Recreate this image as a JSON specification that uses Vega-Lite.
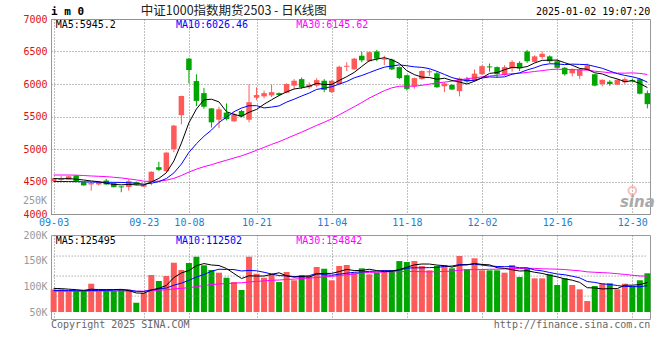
{
"$schema": "https://vega.github.io/schema/vega-lite/v6.json",
"background": "#ffffff",
"padding": {"left": 22, "top": 4, "right": 11, "bottom": 10},
"bounds": "flush",
"spacing": 21,
"config": {
  "view": {"stroke": "#999999", "strokeWidth": 1},
  "axis": {"labelFont": "DejaVu Sans Mono", "labelFontSize": 10, "ticks": false, "domain": false, "gridColor": "#808080", "gridDash": [1, 2], "gridWidth": 1, "gridOpacity": 1, "labelOverlap": false, "title": null},
  "text": {"font": "DejaVu Sans Mono", "fontSize": 10}
},
"data": {"values": [
{"d":"09-03","o":4505,"h":4555,"l":4495,"c":4550,"m5":4545,"m10":4500,"m30":4600,"v":94200,"vm5":96000,"vm10":92000,"vm30":90500},
{"d":"09-04","o":4525,"h":4590,"l":4490,"c":4540,"m5":4542,"m10":4500,"m30":4600,"v":94200,"vm5":95500,"vm10":92000,"vm30":90500},
{"d":"09-05","o":4530,"h":4590,"l":4525,"c":4580,"m5":4545,"m10":4500,"m30":4600,"v":90900,"vm5":94500,"vm10":92000,"vm30":90500},
{"d":"09-06","o":4592,"h":4595,"l":4500,"c":4505,"m5":4535,"m10":4498,"m30":4598,"v":90900,"vm5":93500,"vm10":91500,"vm30":90500},
{"d":"09-09","o":4490,"h":4495,"l":4435,"c":4440,"m5":4523,"m10":4495,"m30":4592,"v":90900,"vm5":92200,"vm10":91500,"vm30":90500},
{"d":"09-10","o":4455,"h":4490,"l":4360,"c":4475,"m5":4508,"m10":4492,"m30":4585,"v":105100,"vm5":94400,"vm10":92000,"vm30":90800},
{"d":"09-11","o":4455,"h":4500,"l":4440,"c":4490,"m5":4498,"m10":4490,"m30":4580,"v":90900,"vm5":93700,"vm10":92000,"vm30":90800},
{"d":"09-12","o":4515,"h":4540,"l":4450,"c":4455,"m5":4473,"m10":4488,"m30":4575,"v":90900,"vm5":93700,"vm10":92000,"vm30":90800},
{"d":"09-13","o":4475,"h":4480,"l":4410,"c":4413,"m5":4455,"m10":4487,"m30":4565,"v":90900,"vm5":93700,"vm10":92500,"vm30":90800},
{"d":"09-18","o":4425,"h":4430,"l":4335,"c":4410,"m5":4449,"m10":4486,"m30":4555,"v":92900,"vm5":94100,"vm10":93200,"vm30":90800},
{"d":"09-19","o":4415,"h":4540,"l":4360,"c":4505,"m5":4455,"m10":4481,"m30":4540,"v":92900,"vm5":91700,"vm10":93100,"vm30":90800},
{"d":"09-20","o":4490,"h":4500,"l":4440,"c":4455,"m5":4448,"m10":4473,"m30":4525,"v":68100,"vm5":87100,"vm10":90400,"vm30":90500},
{"d":"09-23","o":4420,"h":4450,"l":4415,"c":4445,"m5":4446,"m10":4459,"m30":4505,"v":87600,"vm5":86500,"vm10":90100,"vm30":90500},
{"d":"09-24","o":4505,"h":4655,"l":4440,"c":4650,"m5":4493,"m10":4474,"m30":4500,"v":122100,"vm5":92700,"vm10":93200,"vm30":91500},
{"d":"09-25","o":4720,"h":4805,"l":4660,"c":4680,"m5":4547,"m10":4498,"m30":4506,"v":110400,"vm5":96200,"vm10":95200,"vm30":92500},
{"d":"09-26","o":4660,"h":4950,"l":4640,"c":4945,"m5":4635,"m10":4545,"m30":4520,"v":120100,"vm5":101700,"vm10":96700,"vm30":93500},
{"d":"09-27","o":5000,"h":5370,"l":4950,"c":5360,"m5":4816,"m10":4632,"m30":4548,"v":146000,"vm5":117200,"vm10":102200,"vm30":95000},
{"d":"09-30","o":5520,"h":5820,"l":5380,"c":5815,"m5":5090,"m10":4768,"m30":4592,"v":131800,"vm5":126100,"vm10":106300,"vm30":96000},
{"d":"10-08","o":6390,"h":6400,"l":6010,"c":6215,"m5":5403,"m10":4948,"m30":4645,"v":145500,"vm5":130800,"vm10":111700,"vm30":97500},
{"d":"10-09","o":6045,"h":6150,"l":5660,"c":5740,"m5":5615,"m10":5081,"m30":4690,"v":157700,"vm5":140200,"vm10":118200,"vm30":99500},
{"d":"10-10","o":5860,"h":5940,"l":5620,"c":5650,"m5":5756,"m10":5196,"m30":4728,"v":141000,"vm5":144400,"vm10":123000,"vm30":101500},
{"d":"10-11","o":5625,"h":5630,"l":5330,"c":5410,"m5":5766,"m10":5291,"m30":4758,"v":131800,"vm5":141600,"vm10":129400,"vm30":103500},
{"d":"10-14","o":5450,"h":5650,"l":5320,"c":5610,"m5":5725,"m10":5408,"m30":4795,"v":126600,"vm5":140500,"vm10":133300,"vm30":104500},
{"d":"10-15","o":5560,"h":5700,"l":5440,"c":5460,"m5":5574,"m10":5489,"m30":4827,"v":116800,"vm5":134800,"vm10":132800,"vm30":105500},
{"d":"10-16","o":5425,"h":5560,"l":5420,"c":5535,"m5":5533,"m10":5574,"m30":4862,"v":108400,"vm5":124900,"vm10":132600,"vm30":106300},
{"d":"10-17","o":5585,"h":5600,"l":5490,"c":5500,"m5":5503,"m10":5630,"m30":4895,"v":92900,"vm5":115300,"vm10":129900,"vm30":107000},
{"d":"10-18","o":5450,"h":5995,"l":5410,"c":5720,"m5":5565,"m10":5666,"m30":4936,"v":157700,"vm5":120500,"vm10":131000,"vm30":108500},
{"d":"10-21","o":5790,"h":5950,"l":5750,"c":5830,"m5":5609,"m10":5667,"m30":4980,"v":124600,"vm5":120100,"vm10":130300,"vm30":109500},
{"d":"10-22","o":5810,"h":5900,"l":5780,"c":5860,"m5":5689,"m10":5632,"m30":5025,"v":116800,"vm5":120100,"vm10":127400,"vm30":110600},
{"d":"10-23","o":5825,"h":5990,"l":5800,"c":5875,"m5":5757,"m10":5645,"m30":5071,"v":124600,"vm5":123300,"vm10":124100,"vm30":111800},
{"d":"10-24","o":5860,"h":5870,"l":5815,"c":5830,"m5":5823,"m10":5663,"m30":5113,"v":108400,"vm5":126400,"vm10":120900,"vm30":112300},
{"d":"10-25","o":5865,"h":6010,"l":5855,"c":6000,"m5":5879,"m10":5722,"m30":5162,"v":127900,"vm5":120500,"vm10":120500,"vm30":113400},
{"d":"10-28","o":5975,"h":6075,"l":5925,"c":6050,"m5":5923,"m10":5766,"m30":5211,"v":111800,"vm5":117900,"vm10":119000,"vm30":114100},
{"d":"10-29","o":6075,"h":6100,"l":5925,"c":5950,"m5":5941,"m10":5815,"m30":5259,"v":122100,"vm5":119000,"vm10":119500,"vm30":115200},
{"d":"10-30","o":5950,"h":6025,"l":5925,"c":5990,"m5":5964,"m10":5861,"m30":5311,"v":120100,"vm5":118100,"vm10":120700,"vm30":116100},
{"d":"10-31","o":5975,"h":6090,"l":5950,"c":6060,"m5":6010,"m10":5917,"m30":5364,"v":137700,"vm5":123900,"vm10":125200,"vm30":117200},
{"d":"11-01","o":6050,"h":6075,"l":5875,"c":5910,"m5":5992,"m10":5936,"m30":5411,"v":134300,"vm5":125200,"vm10":122800,"vm30":118700},
{"d":"11-04","o":5875,"h":6060,"l":5860,"c":6050,"m5":5992,"m10":5958,"m30":5464,"v":111800,"vm5":125200,"vm10":121600,"vm30":119400},
{"d":"11-05","o":6000,"h":6280,"l":5990,"c":6265,"m5":6055,"m10":5998,"m30":5526,"v":139600,"vm5":128700,"vm10":123800,"vm30":121000},
{"d":"11-06","o":6265,"h":6335,"l":6200,"c":6280,"m5":6113,"m10":6039,"m30":5588,"v":141600,"vm5":133000,"vm10":125500,"vm30":122600},
{"d":"11-07","o":6225,"h":6400,"l":6220,"c":6390,"m5":6179,"m10":6095,"m30":5651,"v":126600,"vm5":130800,"vm10":127400,"vm30":123700},
{"d":"11-08","o":6435,"h":6500,"l":6335,"c":6365,"m5":6270,"m10":6131,"m30":5715,"v":135100,"vm5":130900,"vm10":128100,"vm30":126000},
{"d":"11-11","o":6350,"h":6500,"l":6340,"c":6490,"m5":6358,"m10":6175,"m30":5783,"v":123400,"vm5":133300,"vm10":129200,"vm30":127200},
{"d":"11-12","o":6500,"h":6525,"l":6350,"c":6390,"m5":6383,"m10":6219,"m30":5841,"v":126600,"vm5":130700,"vm10":129700,"vm30":127300},
{"d":"11-13","o":6375,"h":6435,"l":6290,"c":6390,"m5":6405,"m10":6259,"m30":5898,"v":131200,"vm5":128600,"vm10":130800,"vm30":128000},
{"d":"11-14","o":6375,"h":6390,"l":6215,"c":6225,"m5":6372,"m10":6276,"m30":5941,"v":131800,"vm5":129600,"vm10":130200,"vm30":128400},
{"d":"11-15","o":6260,"h":6270,"l":6075,"c":6090,"m5":6317,"m10":6294,"m30":5965,"v":149300,"vm5":132500,"vm10":131700,"vm30":128500},
{"d":"11-18","o":6135,"h":6140,"l":5900,"c":5925,"m5":6204,"m10":6281,"m30":5969,"v":147400,"vm5":137300,"vm10":135300,"vm30":129000},
{"d":"11-19","o":5965,"h":6100,"l":5930,"c":6090,"m5":6144,"m10":6264,"m30":5965,"v":149300,"vm5":141800,"vm10":136200,"vm30":129100},
{"d":"11-20","o":6075,"h":6210,"l":6065,"c":6200,"m5":6106,"m10":6256,"m30":5980,"v":139600,"vm5":143500,"vm10":136000,"vm30":128500},
{"d":"11-21","o":6180,"h":6225,"l":6125,"c":6195,"m5":6100,"m10":6236,"m30":5998,"v":131200,"vm5":143400,"vm10":136500,"vm30":128200},
{"d":"11-22","o":6165,"h":6190,"l":5940,"c":5950,"m5":6072,"m10":6195,"m30":6016,"v":139600,"vm5":141400,"vm10":136900,"vm30":128500},
{"d":"11-25","o":5965,"h":6025,"l":5875,"c":6010,"m5":6089,"m10":6147,"m30":6029,"v":141600,"vm5":140300,"vm10":138800,"vm30":129000},
{"d":"11-26","o":5985,"h":6000,"l":5910,"c":5915,"m5":6054,"m10":6099,"m30":6044,"v":135100,"vm5":137400,"vm10":139600,"vm30":129600},
{"d":"11-27","o":5890,"h":6100,"l":5810,"c":6085,"m5":6031,"m10":6069,"m30":6063,"v":159100,"vm5":141300,"vm10":142400,"vm30":131300},
{"d":"11-28","o":6075,"h":6110,"l":6020,"c":6040,"m5":6000,"m10":6050,"m30":6081,"v":133200,"vm5":141700,"vm10":142500,"vm30":132600},
{"d":"11-29","o":6050,"h":6225,"l":6040,"c":6160,"m5":6042,"m10":6057,"m30":6095,"v":154600,"vm5":144700,"vm10":143100,"vm30":132500},
{"d":"12-02","o":6150,"h":6290,"l":6140,"c":6275,"m5":6095,"m10":6092,"m30":6110,"v":131200,"vm5":142600,"vm10":141500,"vm30":132700},
{"d":"12-03","o":6270,"h":6315,"l":6190,"c":6255,"m5":6163,"m10":6109,"m30":6123,"v":131200,"vm5":141900,"vm10":139600,"vm30":133200},
{"d":"12-04","o":6260,"h":6270,"l":6100,"c":6150,"m5":6176,"m10":6104,"m30":6133,"v":131200,"vm5":136300,"vm10":138800,"vm30":133400},
{"d":"12-05","o":6140,"h":6290,"l":6125,"c":6260,"m5":6220,"m10":6110,"m30":6147,"v":126600,"vm5":135000,"vm10":138300,"vm30":134000},
{"d":"12-06","o":6240,"h":6365,"l":6190,"c":6340,"m5":6256,"m10":6149,"m30":6159,"v":141600,"vm5":132400,"vm10":138500,"vm30":134500},
{"d":"12-09","o":6325,"h":6350,"l":6200,"c":6240,"m5":6249,"m10":6172,"m30":6165,"v":118200,"vm5":129800,"vm10":136200,"vm30":134700},
{"d":"12-10","o":6500,"h":6525,"l":6325,"c":6350,"m5":6268,"m10":6216,"m30":6178,"v":135100,"vm5":130500,"vm10":136200,"vm30":135100},
{"d":"12-11","o":6340,"h":6440,"l":6330,"c":6425,"m5":6323,"m10":6250,"m30":6193,"v":115600,"vm5":127400,"vm10":131900,"vm30":135000},
{"d":"12-12","o":6415,"h":6500,"l":6385,"c":6465,"m5":6364,"m10":6292,"m30":6206,"v":115600,"vm5":125200,"vm10":130100,"vm30":134200},
{"d":"12-13","o":6425,"h":6440,"l":6320,"c":6350,"m5":6366,"m10":6311,"m30":6221,"v":123400,"vm5":121600,"vm10":127000,"vm30":133800},
{"d":"12-16","o":6350,"h":6375,"l":6235,"c":6250,"m5":6368,"m10":6309,"m30":6228,"v":102600,"vm5":118500,"vm10":124100,"vm30":133500},
{"d":"12-17","o":6250,"h":6260,"l":6130,"c":6150,"m5":6328,"m10":6298,"m30":6224,"v":115600,"vm5":114600,"vm10":122600,"vm30":132700},
{"d":"12-18","o":6165,"h":6240,"l":6115,"c":6225,"m5":6288,"m10":6306,"m30":6222,"v":102600,"vm5":112000,"vm10":119700,"vm30":131400},
{"d":"12-19","o":6125,"h":6240,"l":6075,"c":6225,"m5":6240,"m10":6302,"m30":6216,"v":94200,"vm5":107700,"vm10":116500,"vm30":130300},
{"d":"12-20","o":6215,"h":6315,"l":6205,"c":6285,"m5":6227,"m10":6297,"m30":6214,"v":71400,"vm5":97300,"vm10":109400,"vm30":128200},
{"d":"12-23","o":6150,"h":6155,"l":5965,"c":5975,"m5":6172,"m10":6270,"m30":6197,"v":100600,"vm5":96900,"vm10":107700,"vm30":127400},
{"d":"12-24","o":6000,"h":6070,"l":5965,"c":6065,"m5":6155,"m10":6242,"m30":6186,"v":105900,"vm5":94900,"vm10":104800,"vm30":126700},
{"d":"12-25","o":6035,"h":6060,"l":5970,"c":6000,"m5":6110,"m10":6199,"m30":6173,"v":105900,"vm5":95600,"vm10":103800,"vm30":125900},
{"d":"12-26","o":5990,"h":6075,"l":5985,"c":6065,"m5":6078,"m10":6159,"m30":6168,"v":94200,"vm5":95600,"vm10":101600,"vm30":124600},
{"d":"12-27","o":6025,"h":6100,"l":6000,"c":6075,"m5":6036,"m10":6132,"m30":6167,"v":105100,"vm5":102300,"vm10":99800,"vm30":123200},
{"d":"12-30","o":6060,"h":6085,"l":6025,"c":6045,"m5":6050,"m10":6111,"m30":6171,"v":100100,"vm5":102200,"vm10":99600,"vm30":121600},
{"d":"12-31","o":6075,"h":6090,"l":5840,"c":5850,"m5":6007,"m10":6081,"m30":6163,"v":111800,"vm5":103400,"vm10":99200,"vm30":120300},
{"d":"01-02","o":5860,"h":5900,"l":5625,"c":5690,"m5":5945,"m10":6028,"m30":6146,"v":125400,"vm5":107300,"vm10":101500,"vm30":119900}
]},
"vconcat": [
{
  "width": 599, "height": 195,
  "encoding": {
    "x": {"field": "d", "type": "ordinal", "sort": null, "scale": {"type": "point", "padding": 0.35},
          "axis": {"values": ["09-03","09-23","10-08","10-21","11-04","11-18","12-02","12-16","12-30"], "labelAngle": 0, "labelColor": "#1a80d0", "grid": true, "labelPadding": 3, "labelOverlap": false}}
  },
  "layer": [
    {"mark": {"type": "rule", "strokeWidth": 1},
     "encoding": {
       "y": {"field": "l", "type": "quantitative", "scale": {"domain": [4000, 7000], "nice": false, "zero": false},
             "axis": {"values": [4000,4500,5000,5500,6000,6500,7000], "format": "d", "labelColor": "#e01010", "grid": true, "labelPadding": 4, "labelOverlap": false}},
       "y2": {"field": "h"},
       "color": {"condition": {"test": "datum.c >= datum.o", "value": "#ff5a5a"}, "value": "#00a600"}
     }},
    {"mark": {"type": "bar", "size": 5.5},
     "encoding": {
       "y": {"field": "o", "type": "quantitative", "scale": {"domain": [4000, 7000], "nice": false, "zero": false},
             "axis": {"values": [4000,4500,5000,5500,6000,6500,7000], "format": "d", "labelColor": "#e01010", "grid": true, "labelPadding": 4, "labelOverlap": false}},
       "y2": {"field": "c"},
       "color": {"condition": {"test": "datum.c >= datum.o", "value": "#ff5a5a"}, "value": "#00a600"}
     }},
    {"mark": {"type": "line", "color": "#ff00ff", "strokeWidth": 1}, "encoding": {"y": {"field": "m30", "type": "quantitative", "scale": {"domain": [4000, 7000], "nice": false, "zero": false},
             "axis": {"values": [4000,4500,5000,5500,6000,6500,7000], "format": "d", "labelColor": "#e01010", "grid": true, "labelPadding": 4, "labelOverlap": false}}}},
    {"mark": {"type": "line", "color": "#0000ff", "strokeWidth": 1}, "encoding": {"y": {"field": "m10", "type": "quantitative", "scale": {"domain": [4000, 7000], "nice": false, "zero": false},
             "axis": {"values": [4000,4500,5000,5500,6000,6500,7000], "format": "d", "labelColor": "#e01010", "grid": true, "labelPadding": 4, "labelOverlap": false}}}},
    {"mark": {"type": "line", "color": "#000000", "strokeWidth": 1}, "encoding": {"y": {"field": "m5", "type": "quantitative", "scale": {"domain": [4000, 7000], "nice": false, "zero": false},
             "axis": {"values": [4000,4500,5000,5500,6000,6500,7000], "format": "d", "labelColor": "#e01010", "grid": true, "labelPadding": 4, "labelOverlap": false}}}},
    {"data": {"values": [{}]}, "mark": {"type": "text", "text": "MA5:5945.2", "align": "left", "baseline": "middle", "dx": 2, "dy": 6, "color": "#000000"},
     "encoding": {"x": {"datum": "09-03", "type": "ordinal"}, "y": {"datum": 7000, "type": "quantitative", "scale": {"domain": [4000, 7000], "nice": false, "zero": false},
             "axis": {"values": [4000,4500,5000,5500,6000,6500,7000], "format": "d", "labelColor": "#e01010", "grid": true, "labelPadding": 4, "labelOverlap": false}}}},
    {"data": {"values": [{}]}, "mark": {"type": "text", "text": "MA10:6026.46", "align": "left", "baseline": "middle", "dx": 2, "dy": 6, "color": "#0000ff"},
     "encoding": {"x": {"datum": "09-27", "type": "ordinal"}, "y": {"datum": 7000, "type": "quantitative", "scale": {"domain": [4000, 7000], "nice": false, "zero": false},
             "axis": {"values": [4000,4500,5000,5500,6000,6500,7000], "format": "d", "labelColor": "#e01010", "grid": true, "labelPadding": 4, "labelOverlap": false}}}},
    {"data": {"values": [{}]}, "mark": {"type": "text", "text": "MA30:6145.62", "align": "left", "baseline": "middle", "dx": 2, "dy": 6, "color": "#ff00ff"},
     "encoding": {"x": {"datum": "10-28", "type": "ordinal"}, "y": {"datum": 7000, "type": "quantitative", "scale": {"domain": [4000, 7000], "nice": false, "zero": false},
             "axis": {"values": [4000,4500,5000,5500,6000,6500,7000], "format": "d", "labelColor": "#e01010", "grid": true, "labelPadding": 4, "labelOverlap": false}}}},
    {"data": {"values": [{}]}, "mark": {"type": "text", "text": "i m 0", "align": "left", "baseline": "middle", "dx": -2.6, "dy": -7, "fontSize": 11, "fontWeight": "bold", "color": "#000000"},
     "encoding": {"x": {"datum": "09-03", "type": "ordinal"}, "y": {"datum": 7000, "type": "quantitative", "scale": {"domain": [4000, 7000], "nice": false, "zero": false},
             "axis": {"values": [4000,4500,5000,5500,6000,6500,7000], "format": "d", "labelColor": "#e01010", "grid": true, "labelPadding": 4, "labelOverlap": false}}}},
    {"data": {"values": [{}]}, "mark": {"type": "text", "text": "中证1000指数期货2503 - 日K线图", "font": "Noto Sans CJK SC", "fontSize": 12.5, "align": "left", "baseline": "middle", "dx": -3, "dy": -8, "color": "#222222"},
     "encoding": {"x": {"datum": "09-23", "type": "ordinal"}, "y": {"datum": 7000, "type": "quantitative", "scale": {"domain": [4000, 7000], "nice": false, "zero": false},
             "axis": {"values": [4000,4500,5000,5500,6000,6500,7000], "format": "d", "labelColor": "#e01010", "grid": true, "labelPadding": 4, "labelOverlap": false}}}},
    {"data": {"values": [{}]}, "mark": {"type": "text", "text": "2025-01-02 19:07:20", "align": "right", "baseline": "middle", "dx": 3, "dy": -7, "color": "#000000"},
     "encoding": {"x": {"datum": "01-02", "type": "ordinal"}, "y": {"datum": 7000, "type": "quantitative", "scale": {"domain": [4000, 7000], "nice": false, "zero": false},
             "axis": {"values": [4000,4500,5000,5500,6000,6500,7000], "format": "d", "labelColor": "#e01010", "grid": true, "labelPadding": 4, "labelOverlap": false}}}},
    {"data": {"values": [{}]}, "mark": {"type": "text", "text": "250K", "align": "right", "baseline": "middle", "dx": -6.6, "color": "#999999"},
     "encoding": {"x": {"datum": "09-03", "type": "ordinal"}, "y": {"datum": 4205, "type": "quantitative", "scale": {"domain": [4000, 7000], "nice": false, "zero": false},
             "axis": {"values": [4000,4500,5000,5500,6000,6500,7000], "format": "d", "labelColor": "#e01010", "grid": true, "labelPadding": 4, "labelOverlap": false}}}},
    {"data": {"values": [{}]}, "mark": {"type": "point", "shape": "circle", "size": 60, "filled": false, "stroke": "#ff9090", "strokeWidth": 2, "opacity": 0.6},
     "encoding": {"x": {"datum": "12-30", "type": "ordinal"}, "y": {"datum": 4360, "type": "quantitative", "scale": {"domain": [4000, 7000], "nice": false, "zero": false},
             "axis": {"values": [4000,4500,5000,5500,6000,6500,7000], "format": "d", "labelColor": "#e01010", "grid": true, "labelPadding": 4, "labelOverlap": false}}}},
    {"data": {"values": [{}]}, "mark": {"type": "text", "text": "sina", "font": "DejaVu Sans", "fontSize": 15, "fontWeight": "bold", "fontStyle": "italic", "align": "center", "baseline": "middle", "dx": 5, "color": "#aaaaaa"},
     "encoding": {"x": {"datum": "12-30", "type": "ordinal"}, "y": {"datum": 4190, "type": "quantitative", "scale": {"domain": [4000, 7000], "nice": false, "zero": false},
             "axis": {"values": [4000,4500,5000,5500,6000,6500,7000], "format": "d", "labelColor": "#e01010", "grid": true, "labelPadding": 4, "labelOverlap": false}}}}
  ]
},
{
  "width": 599, "height": 84,
  "encoding": {
    "x": {"field": "d", "type": "ordinal", "sort": null, "scale": {"type": "point", "padding": 0.35},
          "axis": {"values": ["09-03","09-23","10-08","10-21","11-04","11-18","12-02","12-16","12-30"], "labels": false, "grid": true}}
  },
  "layer": [
    {"mark": {"type": "bar", "size": 6},
     "encoding": {
       "y": {"field": "v", "type": "quantitative", "scale": {"domain": [36400, 200000], "nice": false, "zero": false},
             "axis": {"values": [50000, 100000, 150000, 200000], "labelExpr": "(datum.value/1000) + 'K'", "labelColor": "#999999", "grid": false, "labelPadding": 4, "labelOverlap": false}},
       "y2": {"datum": 50000},
       "color": {"condition": {"test": "datum.c >= datum.o", "value": "#ff5a5a"}, "value": "#00a600"}
     }},
    {"data": {"values": [{"g": 81000}, {"g": 120000}, {"g": 159000}]},
     "mark": {"type": "rule", "color": "#808080", "strokeDash": [1, 2], "strokeWidth": 1},
     "encoding": {"x": {"datum": "09-03", "type": "ordinal"}, "x2": {"datum": "01-02"}, "y": {"field": "g", "type": "quantitative", "scale": {"domain": [36400, 200000], "nice": false, "zero": false},
             "axis": {"values": [50000, 100000, 150000, 200000], "labelExpr": "(datum.value/1000) + 'K'", "labelColor": "#999999", "grid": false, "labelPadding": 4, "labelOverlap": false}}}},
    {"mark": {"type": "line", "color": "#ff00ff", "strokeWidth": 1},
     "encoding": {"y": {"field": "vm30", "type": "quantitative", "scale": {"domain": [36400, 200000], "nice": false, "zero": false},
             "axis": {"values": [50000, 100000, 150000, 200000], "labelExpr": "(datum.value/1000) + 'K'", "labelColor": "#999999", "grid": false, "labelPadding": 4, "labelOverlap": false}}}},
    {"mark": {"type": "line", "color": "#0000ff", "strokeWidth": 1},
     "encoding": {"y": {"field": "vm10", "type": "quantitative", "scale": {"domain": [36400, 200000], "nice": false, "zero": false},
             "axis": {"values": [50000, 100000, 150000, 200000], "labelExpr": "(datum.value/1000) + 'K'", "labelColor": "#999999", "grid": false, "labelPadding": 4, "labelOverlap": false}}}},
    {"mark": {"type": "line", "color": "#000000", "strokeWidth": 1},
     "encoding": {"y": {"field": "vm5", "type": "quantitative", "scale": {"domain": [36400, 200000], "nice": false, "zero": false},
             "axis": {"values": [50000, 100000, 150000, 200000], "labelExpr": "(datum.value/1000) + 'K'", "labelColor": "#999999", "grid": false, "labelPadding": 4, "labelOverlap": false}}}},
    {"data": {"values": [{}]}, "mark": {"type": "text", "text": "MA5:125495", "align": "left", "baseline": "middle", "dx": 2, "dy": 6, "color": "#000000"},
     "encoding": {"x": {"datum": "09-03", "type": "ordinal"}, "y": {"datum": 200000, "type": "quantitative", "scale": {"domain": [36400, 200000], "nice": false, "zero": false},
             "axis": {"values": [50000, 100000, 150000, 200000], "labelExpr": "(datum.value/1000) + 'K'", "labelColor": "#999999", "grid": false, "labelPadding": 4, "labelOverlap": false}}}},
    {"data": {"values": [{}]}, "mark": {"type": "text", "text": "MA10:112502", "align": "left", "baseline": "middle", "dx": 2, "dy": 6, "color": "#0000ff"},
     "encoding": {"x": {"datum": "09-27", "type": "ordinal"}, "y": {"datum": 200000, "type": "quantitative", "scale": {"domain": [36400, 200000], "nice": false, "zero": false},
             "axis": {"values": [50000, 100000, 150000, 200000], "labelExpr": "(datum.value/1000) + 'K'", "labelColor": "#999999", "grid": false, "labelPadding": 4, "labelOverlap": false}}}},
    {"data": {"values": [{}]}, "mark": {"type": "text", "text": "MA30:154842", "align": "left", "baseline": "middle", "dx": 2, "dy": 6, "color": "#ff00ff"},
     "encoding": {"x": {"datum": "10-28", "type": "ordinal"}, "y": {"datum": 200000, "type": "quantitative", "scale": {"domain": [36400, 200000], "nice": false, "zero": false},
             "axis": {"values": [50000, 100000, 150000, 200000], "labelExpr": "(datum.value/1000) + 'K'", "labelColor": "#999999", "grid": false, "labelPadding": 4, "labelOverlap": false}}}},
    {"data": {"values": [{}]}, "mark": {"type": "text", "text": "Copyright 2025 SINA.COM", "align": "left", "baseline": "middle", "dx": -2.6, "dy": 6, "color": "#666666"},
     "encoding": {"x": {"datum": "09-03", "type": "ordinal"}, "y": {"datum": 36400, "type": "quantitative", "scale": {"domain": [36400, 200000], "nice": false, "zero": false},
             "axis": {"values": [50000, 100000, 150000, 200000], "labelExpr": "(datum.value/1000) + 'K'", "labelColor": "#999999", "grid": false, "labelPadding": 4, "labelOverlap": false}}}},
    {"data": {"values": [{}]}, "mark": {"type": "text", "text": "http://finance.sina.com.cn", "align": "right", "baseline": "middle", "dx": 3, "dy": 6, "color": "#666666"},
     "encoding": {"x": {"datum": "01-02", "type": "ordinal"}, "y": {"datum": 36400, "type": "quantitative", "scale": {"domain": [36400, 200000], "nice": false, "zero": false},
             "axis": {"values": [50000, 100000, 150000, 200000], "labelExpr": "(datum.value/1000) + 'K'", "labelColor": "#999999", "grid": false, "labelPadding": 4, "labelOverlap": false}}}}
  ]
}
]
}
